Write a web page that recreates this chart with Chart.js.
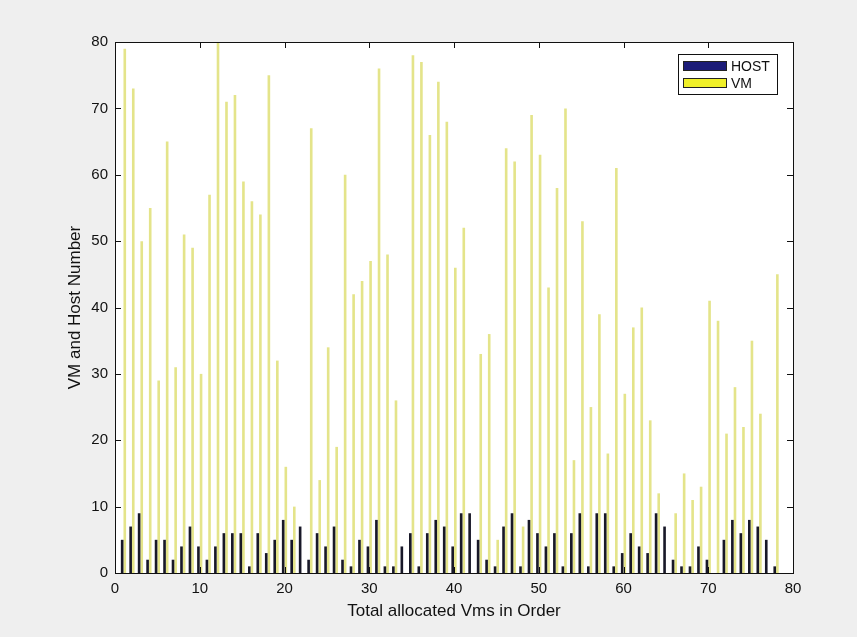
<!DOCTYPE html>
<html>
<head>
<meta charset="utf-8">
<script src="https://cdn.jsdelivr.net/npm/chart.js@4"></script>
<style>
    html, body { margin: 0; padding: 0; background: #efefef; }
    #myChart { display: block; }
</style>
</head>
<body>
<canvas id="myChart" width="857" height="637"></canvas>
<script>
// order of allocated VMs: 1..78
let vmOrder = [
    1, 2, 3, 4, 5, 6, 7, 8, 9, 10,
    11, 12, 13, 14, 15, 16, 17, 18, 19, 20,
    21, 22, 23, 24, 25, 26, 27, 28, 29, 30,
    31, 32, 33, 34, 35, 36, 37, 38, 39, 40,
    41, 42, 43, 44, 45, 46, 47, 48, 49, 50,
    51, 52, 53, 54, 55, 56, 57, 58, 59, 60,
    61, 62, 63, 64, 65, 66, 67, 68, 69, 70,
    71, 72, 73, 74, 75, 76, 77, 78
]

let hostNumber = [
    5, 7, 9, 2, 5, 5, 2, 4, 7, 4,
    2, 4, 6, 6, 6, 1, 6, 3, 5, 8,
    5, 7, 2, 6, 4, 7, 2, 1, 5, 4,
    8, 1, 1, 4, 6, 1, 6, 8, 7, 4,
    9, 9, 5, 2, 1, 7, 9, 1, 8, 6,
    4, 6, 1, 6, 9, 1, 9, 9, 1, 3,
    6, 4, 3, 9, 7, 2, 1, 1, 4, 2,
    0, 5, 8, 6, 8, 7, 5, 1
]

let vmNumber = [
    79, 73, 50, 55, 29, 65, 31, 51, 49, 30,
    57, 80, 71, 72, 59, 56, 54, 75, 32, 16,
    10, 0, 67, 14, 34, 19, 60, 42, 44, 47,
    76, 48, 26, 0, 78, 77, 66, 74, 68, 46,
    52, 0, 33, 36, 5, 64, 62, 7, 69, 63,
    43, 58, 70, 17, 53, 25, 39, 18, 61, 27,
    37, 40, 23, 12, 0, 9, 15, 11, 13, 41,
    38, 21, 28, 22, 35, 24, 0, 45
]

let xTicks = [0, 10, 20, 30, 40, 50, 60, 70, 80]
let yTicks = [0, 10, 20, 30, 40, 50, 60, 70, 80]

let seriesNames = ["HOST", "VM"]

let chartMain


function toPoints(values){
    let points = []
    for (let i=0; i<vmOrder.length; i++){
        points.push({x: vmOrder[i], y: values[i]})
    }
    return points
}


// 白色繪圖區
const plotBackground = {
    id: "plotBackground",
    beforeDraw(chart){
        let {ctx, chartArea} = chart
        ctx.save()
        ctx.fillStyle = "#ffffff"
        ctx.fillRect(chartArea.left, chartArea.top, chartArea.right - chartArea.left, chartArea.bottom - chartArea.top)
        ctx.restore()
    }
}


// 外框 + 四邊朝內的刻度
const axisBox = {
    id: "axisBox",
    afterDatasetsDraw(chart){
        let {ctx, chartArea, scales} = chart
        let {left, right, top, bottom} = chartArea
        let tickLen = 6

        ctx.save()
        ctx.strokeStyle = "#111111"
        ctx.lineWidth = 1
        ctx.beginPath()
        xTicks.forEach(v => {
            let px = Math.round(scales.x.getPixelForValue(v)) + 0.5
            ctx.moveTo(px, bottom)
            ctx.lineTo(px, bottom - tickLen)
            ctx.moveTo(px, top)
            ctx.lineTo(px, top + tickLen)
        })
        yTicks.forEach(v => {
            let py = Math.round(scales.y.getPixelForValue(v)) + 0.5
            ctx.moveTo(left, py)
            ctx.lineTo(left + tickLen, py)
            ctx.moveTo(right, py)
            ctx.lineTo(right - tickLen, py)
        })
        ctx.stroke()
        ctx.strokeRect(Math.round(left) + 0.5, Math.round(top) + 0.5, Math.round(right - left), Math.round(bottom - top))
        ctx.restore()
    }
}


// 右上角圖例
const boxLegend = {
    id: "boxLegend",
    afterDraw(chart){
        let ctx = chart.ctx
        let swatch = ["#1c1c78", "#f0f028"]
        let x0 = 678, y0 = 54, w = 99, h = 40

        ctx.save()
        ctx.fillStyle = "#ffffff"
        ctx.fillRect(x0, y0, w, h)
        ctx.strokeStyle = "#111111"
        ctx.lineWidth = 1
        ctx.strokeRect(x0 + 0.5, y0 + 0.5, w, h)

        ctx.font = "14px 'Liberation Sans', Arial, sans-serif"
        ctx.textBaseline = "middle"
        chart.data.datasets.forEach((ds, i) => {
            let cy = y0 + 12 + i * 17
            ctx.fillStyle = swatch[i]
            ctx.fillRect(x0 + 5, cy - 5, 44, 10)
            ctx.strokeStyle = "#222222"
            ctx.strokeRect(x0 + 5.5, cy - 4.5, 43, 9)
            ctx.fillStyle = "#111111"
            ctx.fillText(ds.label, x0 + 53, cy + 1)
        })
        ctx.restore()
    }
}


function newChart(){
    let canvasNew = document.querySelector("#myChart").getContext("2d")

    chartMain = new Chart(canvasNew, {
        type: "bar",
        data: {
            datasets: [
                {
                    label: seriesNames[0],
                    data: toPoints(hostNumber),
                    backgroundColor: "#181828",
                },
                {
                    label: seriesNames[1],
                    data: toPoints(vmNumber),
                    backgroundColor: "#e4e48a",
                }
            ]
        },
        options: {
            responsive: false,
            animation: false,
            devicePixelRatio: 1,
            categoryPercentage: 0.62,
            barPercentage: 1.0,
            layout: {
                padding: {top: 42, right: 64, left: 0, bottom: 0}
            },
            scales: {
                x: {
                    type: "linear",
                    min: 0,
                    max: 80,
                    offset: false,
                    afterFit(scale){ scale.height = 64 },
                    afterBuildTicks(scale){ scale.ticks = xTicks.map(v => ({value: v})) },
                    grid: { display: false, drawTicks: false },
                    border: { display: false },
                    ticks: {
                        autoSkip: false,
                        maxRotation: 0,
                        padding: 7,
                        color: "#111111",
                        font: { family: "'Liberation Sans', Arial, sans-serif", size: 15 }
                    },
                    title: {
                        display: true,
                        text: "Total allocated Vms in Order",
                        color: "#111111",
                        padding: {bottom: 15, top: 0},
                        font: { family: "'Liberation Sans', Arial, sans-serif", size: 17 }
                    }
                },
                y: {
                    min: 0,
                    max: 80,
                    afterFit(scale){ scale.width = 115 },
                    afterBuildTicks(scale){ scale.ticks = yTicks.map(v => ({value: v})) },
                    grid: { display: false, drawTicks: false },
                    border: { display: false },
                    ticks: {
                        padding: 7,
                        color: "#111111",
                        font: { family: "'Liberation Sans', Arial, sans-serif", size: 15 }
                    },
                    title: {
                        display: true,
                        text: "VM and Host Number",
                        color: "#111111",
                        padding: {top: 65, bottom: 0},
                        font: { family: "'Liberation Sans', Arial, sans-serif", size: 17 }
                    }
                }
            },
            plugins: {
                legend: { display: false },
                tooltip: { enabled: false }
            }
        },
        plugins: [plotBackground, axisBox, boxLegend]
    })
}


newChart()
</script>
</body>
</html>
